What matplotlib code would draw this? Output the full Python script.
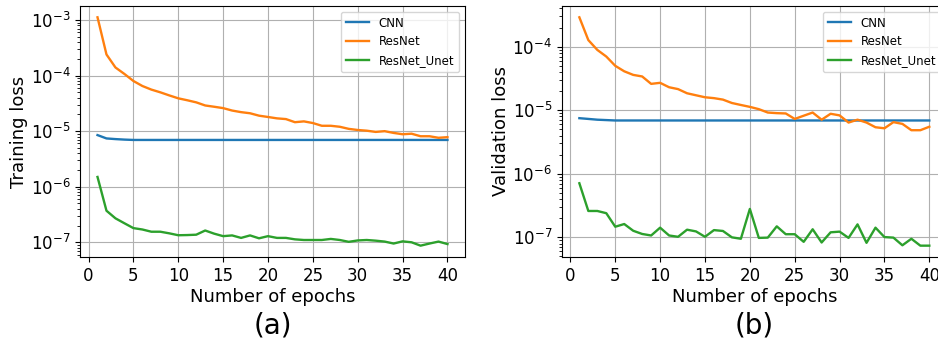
import matplotlib
matplotlib.use("Agg")
import matplotlib.pyplot as plt

epochs = list(range(1, 41))

# training loss
train_cnn = [8.5e-6, 7.4e-6, 7.2e-6, 7.05e-6] + [6.95e-6] * 36
train_resnet = [1.12e-3, 2.4e-4, 1.4e-4, 1.07e-4, 8.0e-5, 6.5e-5, 5.6e-5, 5.0e-5, 4.4e-5, 3.9e-5,
                3.6e-5, 3.3e-5, 2.9e-5, 2.75e-5, 2.6e-5, 2.35e-5, 2.2e-5, 2.1e-5, 1.9e-5, 1.8e-5,
                1.7e-5, 1.65e-5, 1.45e-5, 1.5e-5, 1.4e-5, 1.25e-5, 1.25e-5, 1.2e-5, 1.1e-5, 1.05e-5,
                1.02e-5, 9.7e-6, 1.0e-5, 9.3e-6, 8.8e-6, 9.0e-6, 8.1e-6, 8.1e-6, 7.6e-6, 7.8e-6]
train_unet = [1.5e-6, 3.7e-7, 2.7e-7, 2.2e-7, 1.8e-7, 1.7e-7, 1.55e-7, 1.55e-7, 1.45e-7, 1.34e-7,
              1.35e-7, 1.37e-7, 1.63e-7, 1.43e-7, 1.29e-7, 1.33e-7, 1.2e-7, 1.33e-7, 1.18e-7, 1.29e-7,
              1.2e-7, 1.2e-7, 1.13e-7, 1.1e-7, 1.1e-7, 1.1e-7, 1.15e-7, 1.1e-7, 1.02e-7, 1.08e-7,
              1.1e-7, 1.07e-7, 1.03e-7, 9.5e-8, 1.04e-7, 1.0e-7, 8.7e-8, 9.5e-8, 1.03e-7, 9.3e-8]

# validation loss
val_cnn = [7.5e-6, 7.3e-6, 7.1e-6, 7.0e-6] + [6.9e-6] * 36
val_resnet = [2.9e-4, 1.27e-4, 8.9e-5, 7.0e-5, 5.0e-5, 4.1e-5, 3.6e-5, 3.4e-5, 2.6e-5, 2.7e-5,
              2.3e-5, 2.15e-5, 1.85e-5, 1.72e-5, 1.6e-5, 1.55e-5, 1.47e-5, 1.3e-5, 1.21e-5, 1.13e-5,
              1.04e-5, 9.2e-6, 9.0e-6, 8.9e-6, 7.3e-6, 8.2e-6, 9.2e-6, 7.1e-6, 8.8e-6, 8.3e-6,
              6.4e-6, 7.1e-6, 6.4e-6, 5.4e-6, 5.2e-6, 6.5e-6, 6.1e-6, 4.85e-6, 4.85e-6, 5.5e-6]
val_unet = [7.1e-7, 2.6e-7, 2.6e-7, 2.4e-7, 1.47e-7, 1.62e-7, 1.27e-7, 1.13e-7, 1.07e-7, 1.42e-7,
            1.07e-7, 1.02e-7, 1.32e-7, 1.24e-7, 1.02e-7, 1.3e-7, 1.26e-7, 1.0e-7, 9.5e-8, 2.8e-7,
            9.8e-8, 9.9e-8, 1.49e-7, 1.12e-7, 1.12e-7, 8.5e-8, 1.34e-7, 8.3e-8, 1.2e-7, 1.23e-7,
            9.8e-8, 1.6e-7, 8.2e-8, 1.42e-7, 1.01e-7, 9.9e-8, 7.5e-8, 9.5e-8, 7.4e-8, 7.4e-8]

fig = plt.figure(figsize=(9.38, 3.46), dpi=100)
ax1 = fig.add_axes([0.0853, 0.257, 0.4104, 0.726])
ax2 = fig.add_axes([0.599, 0.257, 0.4104, 0.726])

panels = [
    (ax1, train_cnn, train_resnet, train_unet, 'Training loss', '(a)'),
    (ax2, val_cnn, val_resnet, val_unet, 'Validation loss', '(b)'),
]

for ax, cnn, resnet, unet, ylabel, tag in panels:
    ax.plot(epochs, cnn, color='tab:blue', lw=1.7, label='CNN')
    ax.plot(epochs, resnet, color='tab:orange', lw=1.7, label='ResNet')
    ax.plot(epochs, unet, color='tab:green', lw=1.7, label='ResNet_Unet')
    ax.set_yscale('log')
    ax.set_xticks(range(0, 41, 5))
    ax.grid(True, which='major', color='#b0b0b0', lw=0.8)
    ax.tick_params(labelsize=12)
    ax.set_xlabel('Number of epochs', fontsize=13, labelpad=2)
    ax.set_ylabel(ylabel, fontsize=13, labelpad=2)
    ax.legend(loc='upper right', fontsize=8.5)
    pos = ax.get_position()
    fig.text((pos.x0 + pos.x1) / 2, 0.06, tag, fontsize=20, ha='center', va='center')

fig.savefig('out.png', dpi=100)
